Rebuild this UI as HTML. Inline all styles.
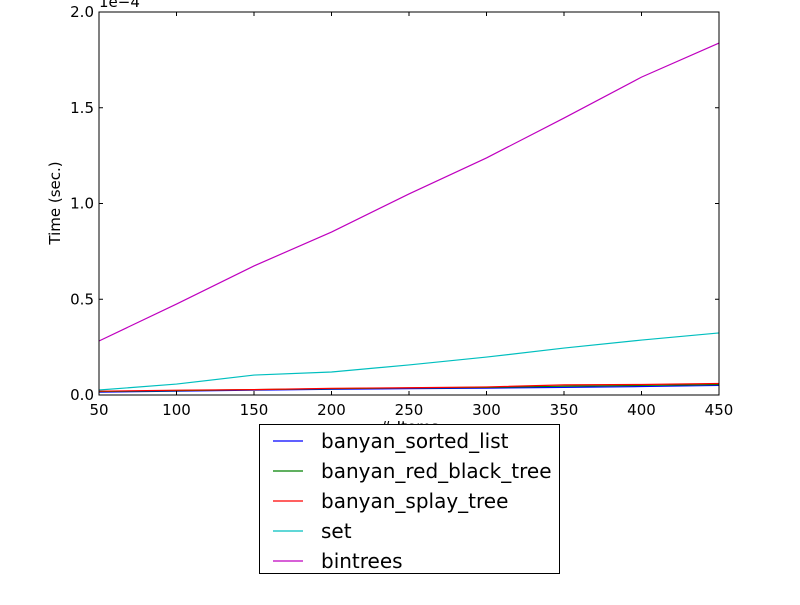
<!DOCTYPE html>
<html><head><meta charset="utf-8"><style>
body{margin:0;background:#fff;}
text{font-family:"DejaVu Sans","Liberation Sans",sans-serif;}
</style></head><body>
<svg id="c" width="800" height="600" xmlns="http://www.w3.org/2000/svg">
<rect width="800" height="600" fill="#fff"/>
</svg>
<script>
const xs=[50,100,150,200,250,300,350,400,450];
const sortedList=[1.5,2,2.5,3,3.3,3.6,4,4.4,5];
const redBlack=[1.8,2.3,2.8,3.3,3.7,4,4.6,5,5.5];
const splay=[2,2.5,2.8,3.5,3.8,4.2,5.3,5.5,6];
const setVals=[2.6,5.7,10.4,12,15.7,19.8,24.5,28.7,32.4];
const bintrees=[28.2,47.5,67.4,85.1,105,123.8,144.6,166,183.8];
const xTicks=[50,100,150,200,250,300,350,400,450];
const yTicks=[0,0.5,1.0,1.5,2.0];
const seriesNames=["banyan_sorted_list","banyan_red_black_tree","banyan_splay_tree","set","bintrees"];
const seriesColors=["#0000ff","#008000","#ff0000","#00bfbf","#bf00bf"];
const seriesData=[sortedList,redBlack,splay,setVals,bintrees];
const L=99,R=719,T=12,B=395;
const sx=v=>L+(v-50)/400*(R-L);
const sy=v=>B-v/200*(B-T);
const svg=document.getElementById('c');
const NS='http://www.w3.org/2000/svg';
function mk(tag,attrs,parent){const e=document.createElementNS(NS,tag);for(const k in attrs)e.setAttribute(k,attrs[k]);(parent||svg).appendChild(e);return e;}
seriesData.forEach((d,i)=>{
  const p=mk('polyline',{points:d.map((v,j)=>sx(xs[j])+','+sy(v)).join(' '),fill:'none',stroke:seriesColors[i],'stroke-width':1.2});
  
  
});
const frame=mk('rect',{x:L,y:T,width:R-L,height:B-T,fill:'none',stroke:'#000','stroke-width':1});


xTicks.forEach(t=>{
  const x=sx(t);
  mk('line',{x1:x,y1:B,x2:x,y2:B-4,stroke:'#000'});
  mk('line',{x1:x,y1:T,x2:x,y2:T+4,stroke:'#000'});
  const tx=mk('text',{x:x,y:B+20,'text-anchor':'middle','font-size':15});
  tx.textContent=t;
  
  
});
yTicks.forEach(t=>{
  const y=sy(t*100);
  mk('line',{x1:L,y1:y,x2:L+4,y2:y,stroke:'#000'});
  mk('line',{x1:R,y1:y,x2:R-4,y2:y,stroke:'#000'});
  const tx=mk('text',{x:L-5,y:y+5,'text-anchor':'end','font-size':15});
  tx.textContent=t.toFixed(1);
  
  
});
const ex=mk('text',{x:L,y:7,'font-size':15});ex.textContent='1e\u22124';


const yl=mk('text',{x:0,y:0,'font-size':15,'text-anchor':'middle',transform:'translate(60,203) rotate(-90)'});yl.textContent='Time (sec.)';


const xl=mk('text',{x:409,y:432,'font-size':15,'text-anchor':'middle'});xl.textContent='# Items';


const lg=mk('g',{});


mk('rect',{x:259.5,y:424.5,width:300,height:149,fill:'#fff',stroke:'#000'},lg);
seriesNames.forEach((n,i)=>{
  const y=441+i*30;
  const g=mk('g',{},lg);
  
  
  mk('line',{x1:273,y1:y,x2:303,y2:y,stroke:seriesColors[i],'stroke-width':1.2},g);
  const t=mk('text',{x:321,y:y+7,'font-size':20},g);t.textContent=n;
});
</script>
</body></html>
